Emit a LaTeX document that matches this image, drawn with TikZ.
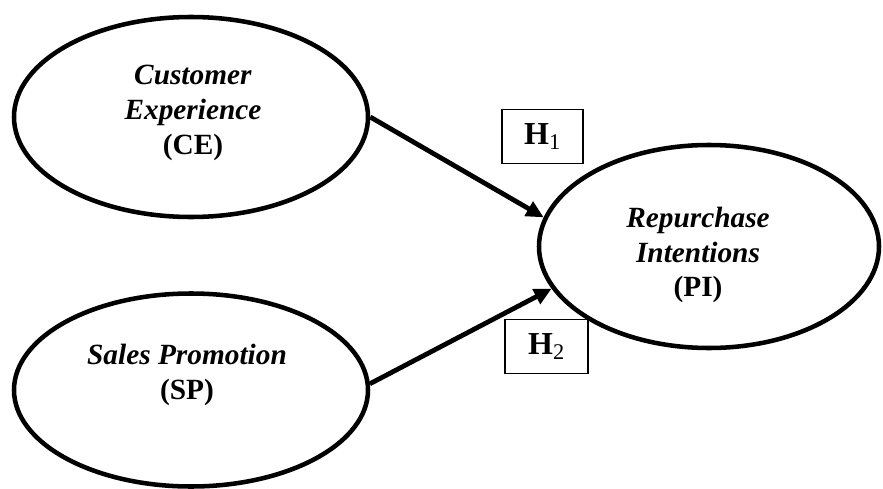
\documentclass[tikz,border=0pt]{standalone}
\usepackage{amsmath}
\usepackage{fontspec}
\setmainfont{Liberation Serif}
\usetikzlibrary{shapes.geometric,arrows.meta}

\begin{document}
\begin{tikzpicture}[x=0.75pt,y=0.75pt,yscale=-1,xscale=1,
    construct/.style={draw,ellipse,line width=3.4pt,inner sep=0pt},
    cname/.style={align=center,inner sep=0.75pt,font=\fontsize{22}{26}\selectfont\bfseries},
    hypbox/.style={draw,line width=0.8pt,inner sep=0pt,minimum height=40.5pt,font=\fontsize{24}{26}\selectfont},
    effect/.style={line width=3.6pt,-{Triangle[length=13pt,width=12pt]}}]
        %set diagram size 883 x 489
        \path[use as bounding box] (0,0) rectangle (883,489);

        %Shape: Ellipse [id:ce]
        \node [construct,minimum width=265.5pt,minimum height=150pt] (ce) at (191,117) {};
        %Shape: Ellipse [id:sp]
        \node [construct,minimum width=265.5pt,minimum height=144.75pt] (sp) at (191,390) {};
        %Shape: Ellipse [id:pi]
        \node [construct,minimum width=255pt,minimum height=152.25pt] (pi) at (709,246.5) {};

        %Straight Lines [id:ce-pi]
        \draw [effect] (ce.east) -- (pi.170);
        %Straight Lines [id:sp-pi]
        \draw [effect] (sp.2) -- (pi.195);

        % Text Node
        \node [cname] (cetext) at (193,113) {\textit{Customer}\\\textit{Experience}\\(CE)};
        % Text Node
        \node [cname] (sptext) at (187,375) {\textit{Sales Promotion}\\(SP)};
        % Text Node
        \node [cname] (pitext) at (698,255) {\textit{Repurchase}\\\textit{Intentions}\\(PI)};

        % Text Node
        \node [hypbox,minimum width=60.75pt] (h1) at (542.5,136.5) {\textbf{H}\textsubscript{1}};
        % Text Node
        \node [hypbox,minimum width=62.25pt] (h2) at (546.5,346.5) {\textbf{H}\textsubscript{2}};

\end{tikzpicture}
\end{document}
